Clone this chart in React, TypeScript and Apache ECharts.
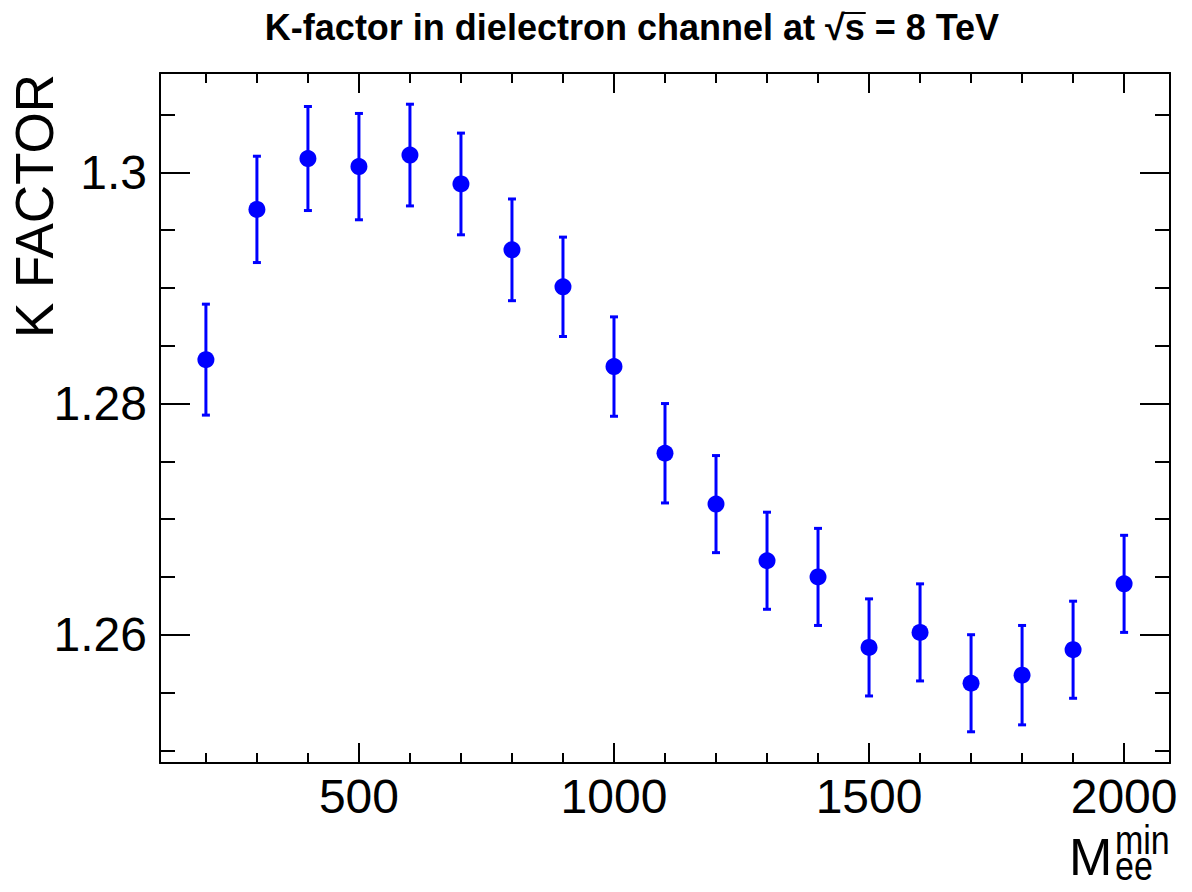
import React, { useEffect, useRef } from "react";
import * as echarts from "echarts";

// ---- data ----
const massMin = [200, 300, 400, 500, 600, 700, 800, 900, 1000, 1100, 1200, 1300, 1400, 1500, 1600, 1700, 1800, 1900, 2000];
const kFactor = [1.2838, 1.2968, 1.3012, 1.3005, 1.3015, 1.299, 1.2933, 1.2901, 1.2832, 1.2757, 1.2713, 1.2664, 1.265, 1.2589, 1.2602, 1.2558, 1.2565, 1.2587, 1.2644];
const kError = [0.0048, 0.0046, 0.0045, 0.0046, 0.0044, 0.0044, 0.0044, 0.0043, 0.0043, 0.0043, 0.0042, 0.0042, 0.0042, 0.0042, 0.0042, 0.0042, 0.0043, 0.0042, 0.0042];

const xRange = [110, 2090];
const yRange = [1.2489, 1.3086];
const xMajorStep = 500;
const xMinorStep = 100;
const yMajorStep = 0.02;
const yMinorStep = 0.005;

const titleText = "K-factor in dielectron channel at \u221As = 8 TeV";
const yTitle = "K FACTOR";
const xTitleMain = "M";
const xTitleSub = "ee";
const xTitleSup = "min";

const FONT = "'Liberation Sans', Arial, Helvetica, sans-serif";
const BLUE = "#0000ff";

export default function App() {
  const ref = useRef<HTMLDivElement>(null);

  useEffect(() => {
    if (!ref.current) return;
    const chart = echarts.init(ref.current, null, { renderer: "svg" });

    const lineStyle = { color: "#000", width: 2 };
    const fmt = (v: number) => String(parseFloat(Number(v).toFixed(3)));

    const mkX = (pos: string, step: number, len: number, labels: boolean, line: boolean) => ({
      type: "value",
      position: pos,
      min: xRange[0],
      max: xRange[1],
      splitNumber: Math.round((xRange[1] - xRange[0]) / step),
      minInterval: step,
      maxInterval: step,
      axisLine: line ? { show: true, onZero: false, lineStyle } : { show: false, onZero: false },
      axisTick: { show: true, inside: true, length: len, lineStyle },
      axisLabel: labels
        ? {
            show: true,
            showMinLabel: false,
            showMaxLabel: false,
            fontFamily: FONT,
            fontSize: 48,
            color: "#000",
            margin: 9,
            formatter: fmt,
          }
        : { show: false },
      splitLine: { show: false },
    });

    const mkY = (pos: string, step: number, len: number, labels: boolean, line: boolean) => ({
      type: "value",
      position: pos,
      min: yRange[0],
      max: yRange[1],
      splitNumber: Math.round((yRange[1] - yRange[0]) / step),
      minInterval: step,
      maxInterval: step,
      axisLine: line ? { show: true, onZero: false, lineStyle } : { show: false, onZero: false },
      axisTick: { show: true, inside: true, length: len, lineStyle },
      axisLabel: labels
        ? {
            show: true,
            showMinLabel: false,
            showMaxLabel: false,
            fontFamily: FONT,
            fontSize: 48,
            color: "#000",
            margin: 13,
            formatter: fmt,
          }
        : { show: false },
      splitLine: { show: false },
    });

    // measure title pieces for the sqrt overline
    const titleSize = 36;
    const titleCx = 632;
    const titleY = 27;
    let ovX1 = 0;
    let ovX2 = 0;
    const cv = document.createElement("canvas").getContext("2d");
    if (cv) {
      cv.font = `bold ${titleSize}px 'Liberation Sans'`;
      const wFull = cv.measureText(titleText).width;
      const pre = titleText.slice(0, titleText.indexOf("\u221A") + 1);
      const wPre = cv.measureText(pre).width;
      const wS = cv.measureText("s").width;
      const left = titleCx - wFull / 2;
      ovX1 = left + wPre - 1;
      ovX2 = left + wPre + wS + 1;
    }

    const errorData = massMin.map((m, i) => [m, kFactor[i], kError[i]]);
    const pointData = massMin.map((m, i) => [m, kFactor[i]]);

    chart.setOption({
      animation: false,
      backgroundColor: "#fff",
      grid: { left: 160, right: 22, top: 73, bottom: 129, containLabel: false },
      xAxis: [
        mkX("bottom", xMajorStep, 20, true, true),
        mkX("bottom", xMinorStep, 10, false, false),
        mkX("top", xMajorStep, 20, false, true),
        mkX("top", xMinorStep, 10, false, false),
      ],
      yAxis: [
        mkY("left", yMajorStep, 30, true, true),
        mkY("left", yMinorStep, 15, false, false),
        mkY("right", yMajorStep, 30, false, true),
        mkY("right", yMinorStep, 15, false, false),
      ],
      series: [
        {
          type: "custom",
          xAxisIndex: 0,
          yAxisIndex: 0,
          data: errorData,
          encode: { x: 0, y: 1 },
          z: 3,
          renderItem: (params: any, api: any) => {
            const x = api.value(0);
            const y = api.value(1);
            const e = api.value(2);
            const top = api.coord([x, y + e]);
            const bot = api.coord([x, y - e]);
            const hw = 4;
            const st = { stroke: BLUE, lineWidth: 3 };
            return {
              type: "group",
              children: [
                { type: "line", shape: { x1: top[0], y1: top[1], x2: bot[0], y2: bot[1] }, style: st },
                { type: "line", shape: { x1: top[0] - hw, y1: top[1], x2: top[0] + hw, y2: top[1] }, style: st },
                { type: "line", shape: { x1: bot[0] - hw, y1: bot[1], x2: bot[0] + hw, y2: bot[1] }, style: st },
              ],
            };
          },
        },
        {
          type: "scatter",
          xAxisIndex: 0,
          yAxisIndex: 0,
          data: pointData,
          symbol: "circle",
          symbolSize: 17,
          itemStyle: { color: BLUE, opacity: 1 },
          z: 4,
        },
      ],
      graphic: [
        {
          type: "text",
          x: titleCx,
          y: titleY,
          style: {
            text: titleText,
            fontFamily: FONT,
            fontWeight: "bold",
            fontSize: titleSize,
            fill: "#000",
            align: "center",
            verticalAlign: "middle",
          },
        },
        {
          type: "line",
          shape: { x1: ovX1, y1: 13, x2: ovX2, y2: 13 },
          style: { stroke: "#000", lineWidth: 2 },
        },
        {
          type: "text",
          x: 34,
          y: 74,
          rotation: Math.PI / 2,
          style: {
            text: yTitle,
            fontFamily: FONT,
            fontSize: 53,
            fill: "#000",
            align: "right",
            verticalAlign: "middle",
          },
        },
        {
          type: "text",
          x: 1069,
          y: 857,
          style: {
            text: xTitleMain,
            fontFamily: FONT,
            fontSize: 52,
            fill: "#000",
            align: "left",
            verticalAlign: "middle",
          },
        },
        {
          type: "text",
          x: 1115,
          y: 866,
          scaleY: 1.2,
          style: {
            text: xTitleSub,
            fontFamily: FONT,
            fontSize: 34,
            fill: "#000",
            align: "left",
            verticalAlign: "middle",
          },
        },
        {
          type: "text",
          x: 1115,
          y: 840,
          scaleY: 1.2,
          style: {
            text: xTitleSup,
            fontFamily: FONT,
            fontSize: 34,
            fill: "#000",
            align: "left",
            verticalAlign: "middle",
          },
        },
      ],
    });

    return () => chart.dispose();
  }, []);

  return (
    <div
      ref={ref}
      style={{ position: "absolute", left: 0, top: 0, width: 1192, height: 892, background: "#fff" }}
    />
  );
}
